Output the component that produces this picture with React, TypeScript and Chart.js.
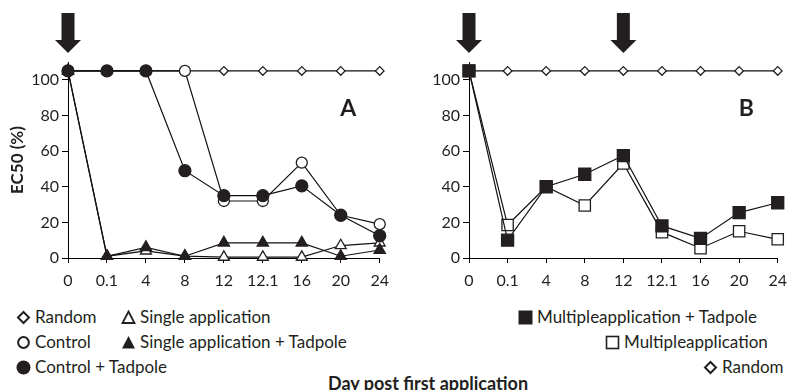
import React, { useEffect, useRef } from "react";
import { Chart, registerables } from "chart.js";
Chart.register(...registerables);

const categories = ["0", "0.1", "4", "8", "12", "12.1", "16", "20", "24"];
const randomA = [105, 105, 105, 105, 105, 105, 105, 105, 105];
const controlA = [105, 105, 105, 105, 32, 32, 53.5, 24, 19];
const controlTadpoleA = [105, 105, 105, 49, 35, 35, 40.5, 24, 12.5];
const singleA = [105, 1, 4, 1, 0.5, 0.5, 0.5, 7, 8.5];
const singleTadpoleA = [105, 1, 6, 1, 8.5, 8.5, 8.5, 1, 4.5];
const multipleTadpoleB = [105, 10, 40, 47, 57.5, 18, 11, 25.5, 31];
const multipleB = [105, 18.5, 40, 29.5, 53, 14.5, 5.5, 15, 10.5];
const randomB = [105, 105, 105, 105, 105, 105, 105, 105, 105];
const arrowsA = ["0"];
const arrowsB = ["0", "12"];
const yMin = 0;
const yMax = 110;
const yStep = 20;
const yLastTick = 100;

const FONT = "Lato, 'Open Sans', sans-serif";
const INK = "#231f20";

function ds(label: string, data: number[], pointStyle: string, filled: boolean, radius: number) {
  return {
    label,
    data,
    borderColor: "#111",
    borderWidth: 1.2,
    pointStyle,
    pointRadius: radius,
    pointHoverRadius: radius,
    pointBackgroundColor: filled ? INK : "#fff",
    pointBorderColor: INK,
    pointBorderWidth: 1.3,
    fill: false,
    tension: 0,
    clip: false as any,
  };
}

function overlayPlugin(arrowCats: string[], letter: string) {
  return {
    id: "overlay" + letter,
    afterDraw(chart: any) {
      const { ctx, chartArea, scales } = chart;
      const xs = scales.x;
      const top = chartArea.top;
      ctx.save();
      ctx.fillStyle = INK;
      for (const c of arrowCats) {
        const x = xs.getPixelForValue(categories.indexOf(c));
        ctx.beginPath();
        ctx.rect(x - 6.5, top - 49, 13, 28);
        ctx.fill();
        ctx.beginPath();
        ctx.moveTo(x - 13, top - 22);
        ctx.lineTo(x + 13, top - 22);
        ctx.lineTo(x, top - 9);
        ctx.closePath();
        ctx.fill();
      }
      ctx.font = `bold 23px ${FONT}`;
      ctx.textAlign = "center";
      ctx.textBaseline = "middle";
      ctx.fillText(letter, chartArea.right - 31.5, top + 47);
      ctx.restore();
    },
  };
}

type PanelProps = {
  left: number;
  width: number;
  height: number;
  datasets: any[];
  arrows: string[];
  letter: string;
  showTitle: boolean;
  axisWidth: number;
  padRight: number;
};

function Panel(p: PanelProps) {
  const ref = useRef<HTMLCanvasElement | null>(null);
  useEffect(() => {
    if (!ref.current) return;
    const chart = new Chart(ref.current, {
      type: "line",
      data: { labels: categories, datasets: p.datasets },
      options: {
        responsive: false,
        animation: false,
        devicePixelRatio: 1,
        layout: { padding: { top: 62, right: p.padRight, bottom: 0, left: 0 } },
        plugins: { legend: { display: false }, tooltip: { enabled: false } },
        scales: {
          x: {
            type: "category",
            offset: false,
            grid: { offset: false, drawOnChartArea: false, drawTicks: true, tickLength: 5, color: "#000" },
            border: { color: "#000", width: 1 },
            ticks: { color: INK, font: { family: FONT, size: 16 }, padding: 8, maxRotation: 0, autoSkip: false },
            afterFit: (s: any) => {
              s.height = 37;
            },
          },
          y: {
            min: yMin,
            max: yMax,
            grid: { drawOnChartArea: false, drawTicks: true, tickLength: 6, color: "#000" },
            border: { color: "#000", width: 1 },
            ticks: { stepSize: yStep, color: INK, font: { family: FONT, size: 16 }, padding: 3 },
            afterBuildTicks: (axis: any) => {
              axis.ticks = axis.ticks.filter((t: any) => t.value <= yLastTick);
            },
            title: {
              display: p.showTitle,
              text: "EC50 (%)",
              color: INK,
              font: { family: FONT, size: 17, weight: "bold" },
              padding: { top: 7, bottom: 0 },
            },
            afterFit: (s: any) => {
              s.width = p.axisWidth;
            },
          },
        },
      } as any,
      plugins: [overlayPlugin(p.arrows, p.letter)],
    });
    return () => chart.destroy();
  }, []);
  return (
    <canvas
      ref={ref}
      width={p.width}
      height={p.height}
      style={{ position: "absolute", left: p.left, top: 0, width: p.width, height: p.height }}
    />
  );
}

function Marker({ kind }: { kind: string }) {
  const s = 15;
  let el: any = null;
  if (kind === "diamond") el = <polygon points="7.5,2 13,7.5 7.5,13 2,7.5" fill="#fff" stroke={INK} strokeWidth={2} />;
  if (kind === "circle") el = <circle cx={7.5} cy={7.5} r={5.4} fill="#fff" stroke={INK} strokeWidth={2} />;
  if (kind === "dot") el = <circle cx={7.5} cy={7.5} r={7} fill={INK} />;
  if (kind === "tri") el = <polygon points="7.5,1.5 13.5,13 1.5,13" fill="#fff" stroke={INK} strokeWidth={1.8} />;
  if (kind === "triF") el = <polygon points="7.5,1 14,13.5 1,13.5" fill={INK} />;
  if (kind === "sqF") el = <rect x={0.5} y={0.5} width={14} height={14} fill={INK} />;
  if (kind === "sq") el = <rect x={1.5} y={1.5} width={12} height={12} fill="#fff" stroke={INK} strokeWidth={1.6} />;
  return (
    <svg width={s} height={s} viewBox="0 0 15 15" style={{ display: "block" }}>
      {el}
    </svg>
  );
}

function LegendItem({ x, y, kind, text }: { x: number; y: number; kind: string; text: string }) {
  return (
    <div
      style={{
        position: "absolute",
        left: x,
        top: y - 11,
        height: 22,
        display: "flex",
        alignItems: "center",
        whiteSpace: "nowrap",
        fontFamily: FONT,
        fontSize: 17,
        color: INK,
        lineHeight: "22px",
      }}
    >
      <Marker kind={kind} />
      <span style={{ marginLeft: 4 }}>{text}</span>
    </div>
  );
}

export default function App() {
  const dsA = [
    ds("Control + Tadpole", controlTadpoleA, "circle", true, 6),
    ds("Control", controlA, "circle", false, 5.5),
    ds("Single application + Tadpole", singleTadpoleA, "triangle", true, 6.5),
    ds("Single application", singleA, "triangle", false, 6.3),
    ds("Random", randomA, "rectRot", false, 4.3),
  ];
  const dsB = [
    ds("Multipleapplication + Tadpole", multipleTadpoleB, "rect", true, 8.5),
    ds("Multipleapplication", multipleB, "rect", false, 8),
    ds("Random", randomB, "rectRot", false, 4.3),
  ];
  return (
    <div style={{ position: "absolute", left: 0, top: 0, width: 795, height: 390, background: "#fff", overflow: "hidden" }}>
      <Panel left={0} width={397} height={295} datasets={dsA} arrows={arrowsA} letter="A" showTitle={true} axisWidth={68} padRight={14} />
      <Panel left={397} width={398} height={295} datasets={dsB} arrows={arrowsB} letter="B" showTitle={false} axisWidth={72} padRight={11} />
      <LegendItem x={16} y={317} kind="diamond" text="Random" />
      <LegendItem x={121} y={317} kind="tri" text="Single application" />
      <LegendItem x={16} y={342} kind="circle" text="Control" />
      <LegendItem x={121} y={342} kind="triF" text="Single application + Tadpole" />
      <LegendItem x={16} y={367} kind="dot" text="Control + Tadpole" />
      <LegendItem x={518} y={317} kind="sqF" text="Multipleapplication + Tadpole" />
      <LegendItem x={605} y={342} kind="sq" text="Multipleapplication" />
      <LegendItem x={703} y={367} kind="diamond" text="Random" />
      <div
        style={{
          position: "absolute",
          left: 428,
          top: 372,
          transform: "translateX(-50%)",
          whiteSpace: "nowrap",
          fontFamily: FONT,
          fontSize: 18,
          fontWeight: "bold",
          color: INK,
          lineHeight: "22px",
        }}
      >
        Day post first application
      </div>
    </div>
  );
}
